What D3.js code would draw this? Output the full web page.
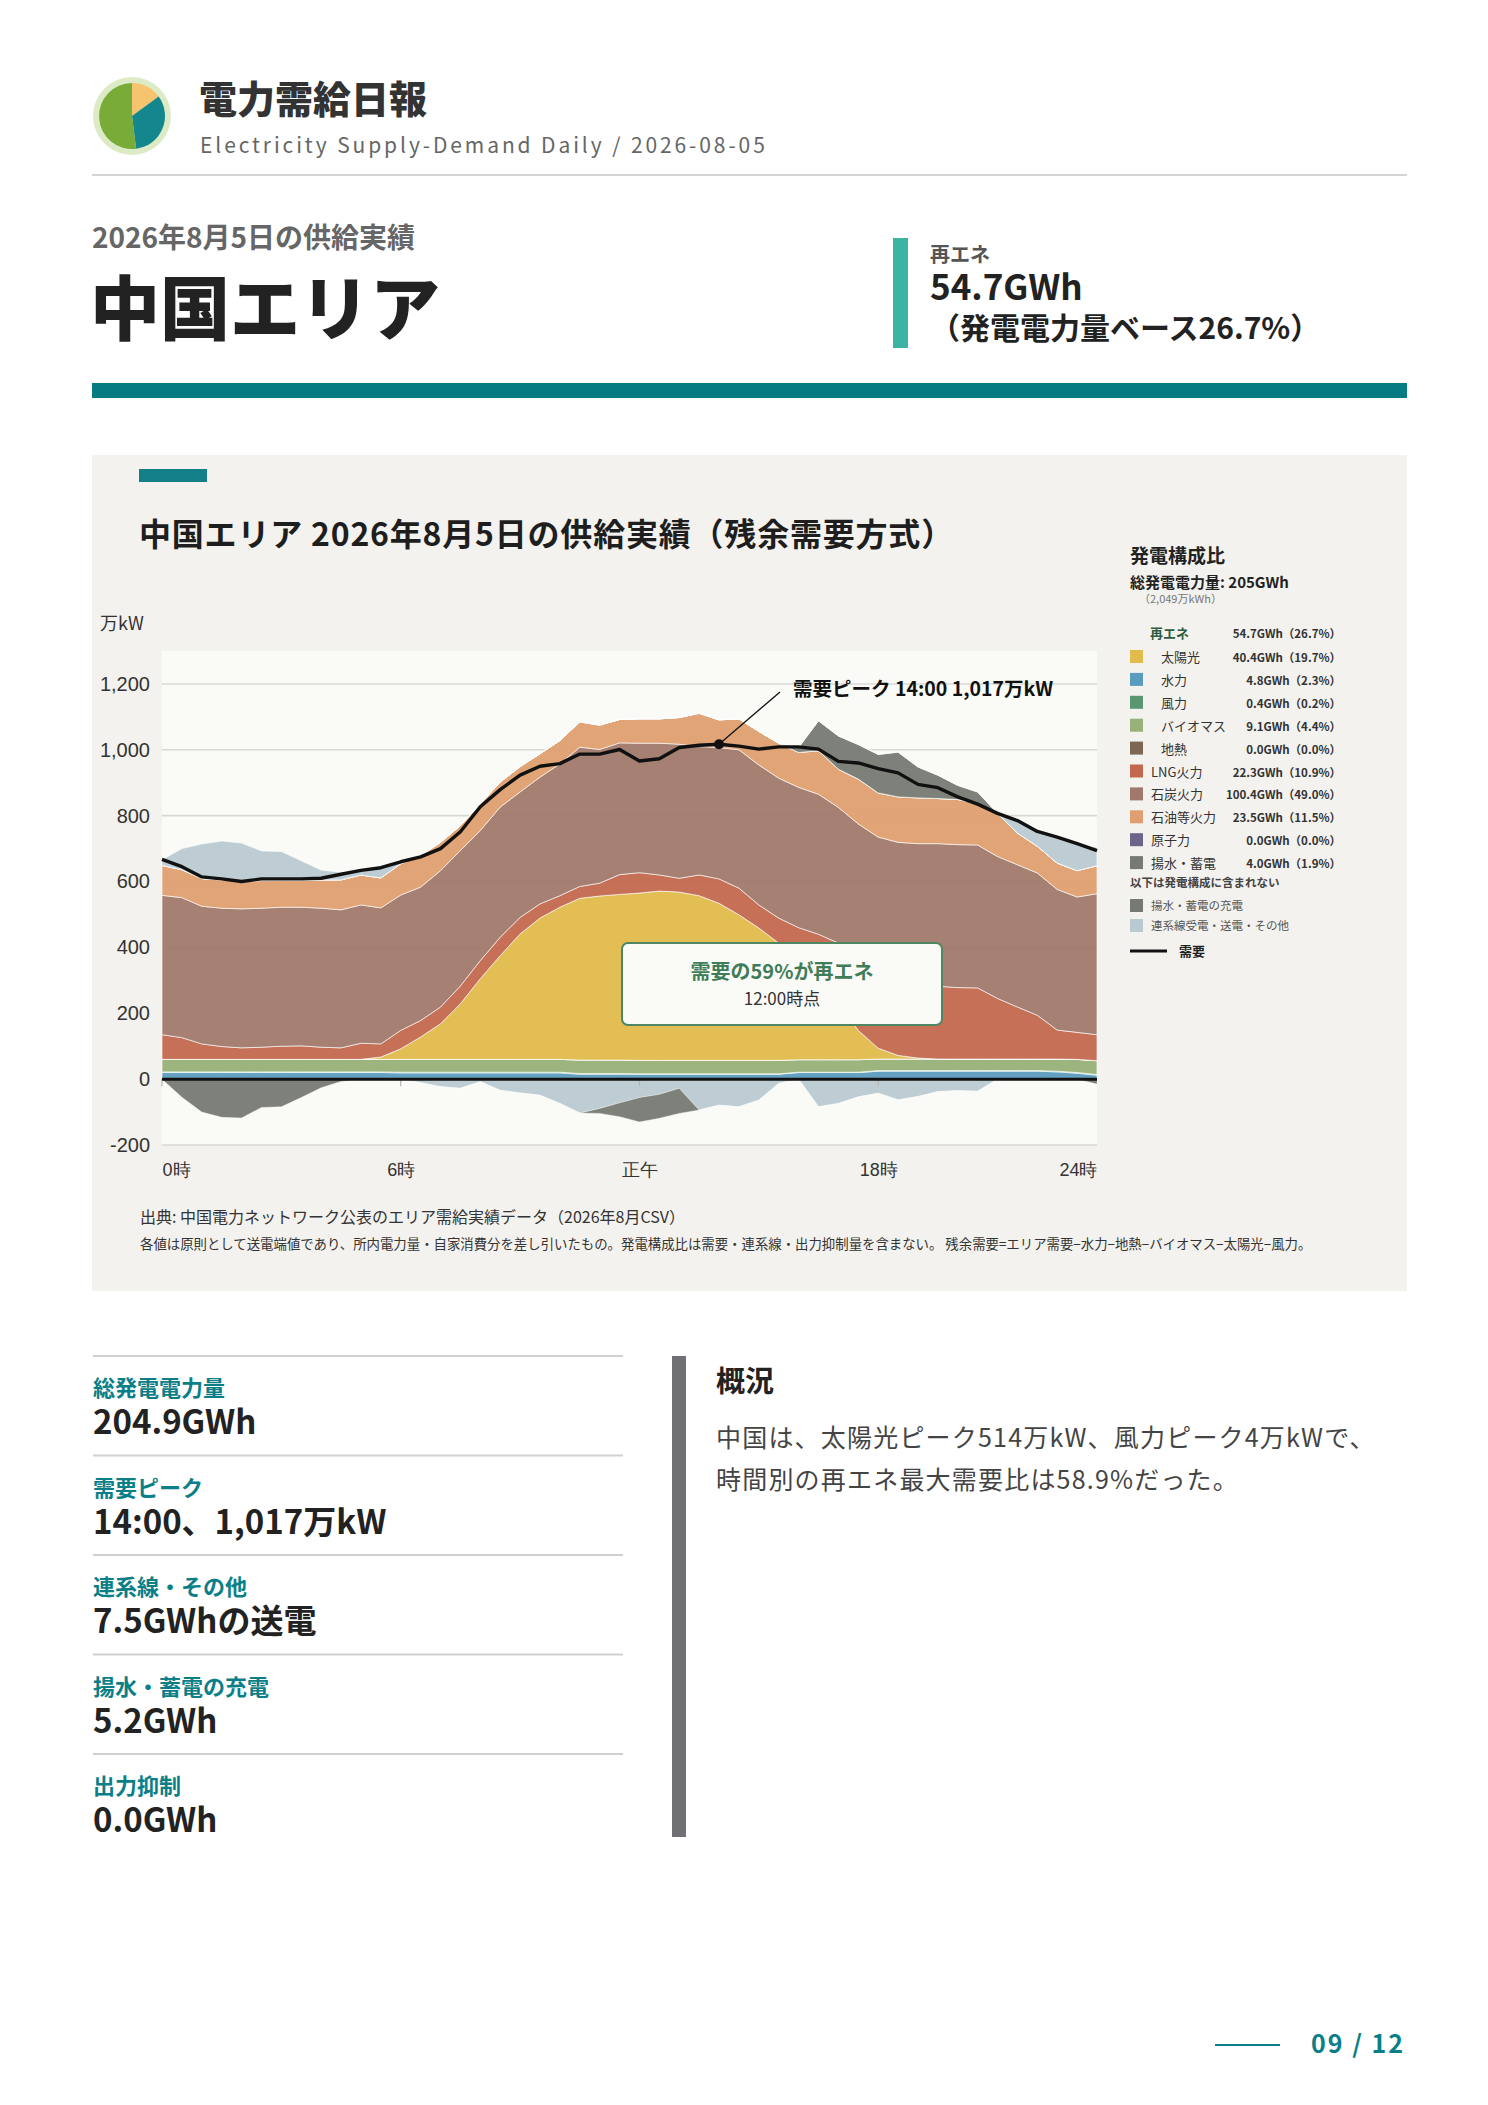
<!DOCTYPE html>
<html lang="ja">
<head>
<meta charset="utf-8">
<script src="https://cdn.jsdelivr.net/npm/d3@7"></script>
<style>
  html, body { margin: 0; padding: 0; background: #fff; }
  svg { display: block; font-family: "Noto Sans CJK JP", "Noto Sans", sans-serif; }
</style>
</head>
<body>
<svg id="page" width="1488" height="2105"></svg>
<script>
// half-hour slots 0:00 .. 23:30
const slots = d3.range(48).map(i => i / 2);

// 万kW
const hydro = [20,20,20,20,20,20,20,20,20,20,20,20, 19,19,19,19,19,19,19,19,19,15,15,15,
               15,15,15,15,15,15,15,15,20,20,20,20, 24,24,24,24,24,24,24,24,24,22,18,12];
const wind = [2,2,2,2,2,2,2,2,2,2,2,2, 2,2,2,2,2,2,2,2,2,2,2,2,
              1,1,1,1,1,1,1,1,1,1,1,1, 2,2,2,2,2,2,2,2,2,2,2,2];
const biomass = [38,38,38,38,38,38,38,38,38,38,38,38, 39,39,39,39,39,39,39,39,39,41,41,41,
                 41,41,41,41,41,41,41,41,38,38,38,38, 35,35,35,35,35,35,35,35,35,37,40,42];
const geothermal = [0,0,0,0,0,0,0,0,0,0,0,0, 0,0,0,0,0,0,0,0,0,0,0,0,
                    0,0,0,0,0,0,0,0,0,0,0,0, 0,0,0,0,0,0,0,0,0,0,0,0];
const solar = [0,0,0,0,0,0,0,0,0,0,0,7, 32,68,108,169,245,315,381,429,462,491,498,503,
               508,514,511,500,477,442,402,356,304,244,174,89, 33,11,3,0,0,0,0,0,0,0,0,0];
const lng = [75,66,47,39,35,37,40,41,37,35,49,40, 56,50,51,54,55,56,50,43,35,36,39,60,
             62,49,42,63,74,81,70,76,97,137,180,220, 246,243,231,221,217,216,184,158,133,88,82,79];
const coal = [423,425,418,420,422,422,422,421,422,419,420,413, 411,405,414,411,395,395,381,385,400,423,406,400,
              393,400,407,390,399,420,425,425,426,425,412,407, 395,404,420,433,434,434,431,432,432,427,411,428];
const oil = [91,85,84,86,84,84,81,81,86,91,91,91, 95,96,86,76,81,76,77,71,71,77,74,71,
             74,74,81,101,84,94,102,106,106,132,116,136, 134,138,139,137,137,126,131,96,81,80,80,85];
const nuclear = [0,0,0,0,0,0,0,0,0,0,0,0, 0,0,0,0,0,0,0,0,0,0,0,0,
                 0,0,0,0,0,0,0,0,0,0,0,0, 0,0,0,0,0,0,0,0,0,0,0,0];
const pumpedGen = [0,0,0,0,0,0,0,0,0,0,0,0, 0,0,0,0,0,0,0,0,0,0,0,0,
                   0,0,0,0,0,0,0,0,15,91,101,105, 117,136,94,71,43,35,0,0,0,0,0,0];
// + = 受電, - = 送電
const interconnect = [17,64,105,118,116,90,88,60,30,23,13,30, 5,-11,-23,-28,-8,-34,-42,-49,-74,-103,-89,-72,
                      -56,-46,-28,-94,-79,-84,-64,-13,0,-84,-74,-54, -43,-63,-53,-38,-35,-37,0,38,45,79,81,56];
const pumpedCharge = [0,-55,-100,-116,-118,-86,-84,-56,-26,-7,0,0, 0,0,0,0,0,0,0,0,0,0,-15,-42,
                      -74,-73,-76,0,0,0,0,0,0,0,0,0, 0,0,0,0,0,0,0,0,0,0,0,-15];
const demand = [667,645,614,608,600,608,608,608,610,622,634,642, 660,675,700,751,827,879,923,950,958,987,987,1001,
                966,973,1007,1014,1017,1011,1002,1009,1009,1002,965,960, 943,930,895,885,857,835,807,785,752,735,715,694];

const yTicks = [-200, 0, 200, 400, 600, 800, 1000, 1200];
const xTicks = [0, 6, 12, 18, 23.5];
const xTickLabels = ["0時", "6時", "正午", "18時", "24時"];

// legend
const mixKeys  = ["solar","hydro","wind","biomass","geothermal","lng","coal","oil","nuclear","pumpedGen"];
const mixNames = ["太陽光","水力","風力","バイオマス","地熱","LNG火力","石炭火力","石油等火力","原子力","揚水・蓄電"];
const mixGWh   = [40.4, 4.8, 0.4, 9.1, 0.0, 22.3, 100.4, 23.5, 0.0, 4.0];
const mixPct   = [19.7, 2.3, 0.2, 4.4, 0.0, 10.9, 49.0, 11.5, 0.0, 1.9];

const statLabels = ["総発電電力量", "需要ピーク", "連系線・その他", "揚水・蓄電の充電", "出力抑制"];
const statValues = ["204.9GWh", "14:00、1,017万kW", "7.5GWhの送電", "5.2GWh", "0.0GWh"];

const logoShares = [0.15, 0.33, 0.52];

const colors = {
    hydro: "#5b9bbe", wind: "#5a9670", biomass: "#97b178", geothermal: "#7e6752",
    solar: "#e1bb4c", lng: "#c2684e", coal: "#a0796c", oil: "#df9f70", nuclear: "#6c6589",
    pumpedGen: "#767a72", importPos: "#b9cad1", exportNeg: "#b9cad1", charge: "#767a72"
};

const teal = "#0b7f88";
const svg = d3.select("#page");

// ---------- header ----------
const logo = svg.append("g").attr("transform", "translate(132,116)");
logo.append("circle").attr("r", 39).attr("fill", "#dcebc6");
const pie = d3.pie().sort(null)(logoShares);
const logoColors = ["#f6c46f", "#13878d", "#78ab37"];
logo.selectAll("path").data(pie).join("path")
    .attr("d", d3.arc().innerRadius(0).outerRadius(33))
    .attr("fill", (d, i) => logoColors[i]);

svg.append("text").attr("x", 199).attr("y", 113)
    .attr("font-size", 38).attr("font-weight", 900).attr("fill", "#333")
    .text("電力需給日報");
svg.append("text").attr("x", 200).attr("y", 153)
    .attr("font-size", 21).attr("fill", "#666").attr("letter-spacing", 2.9)
    .text("Electricity Supply-Demand Daily / 2026-08-05");
svg.append("rect").attr("x", 92).attr("y", 174).attr("width", 1315).attr("height", 2).attr("fill", "#d4d4d4");

svg.append("text").attr("x", 92).attr("y", 248)
    .attr("font-size", 28).attr("font-weight", 700).attr("fill", "#666")
    .text("2026年8月5日の供給実績");
svg.append("text").attr("x", 90).attr("y", 335)
    .attr("font-size", 70).attr("font-weight", 900).attr("fill", "#222")
    .text("中国エリア");

svg.append("rect").attr("x", 893).attr("y", 238).attr("width", 15).attr("height", 110).attr("fill", "#3db4a3");
svg.append("text").attr("x", 930).attr("y", 262)
    .attr("font-size", 20).attr("font-weight", 700).attr("fill", "#555").text("再エネ");
svg.append("text").attr("x", 930).attr("y", 300)
    .attr("font-size", 35).attr("font-weight", 700).attr("fill", "#222").text("54.7GWh");
svg.append("text").attr("x", 930).attr("y", 339)
    .attr("font-size", 30).attr("font-weight", 700).attr("fill", "#222").text("（発電電力量ベース26.7%）");

svg.append("rect").attr("x", 92).attr("y", 383).attr("width", 1315).attr("height", 15).attr("fill", "#077b82");

// ---------- chart panel ----------
svg.append("rect").attr("x", 92).attr("y", 455).attr("width", 1315).attr("height", 836).attr("fill", "#f3f2ee");
svg.append("rect").attr("x", 139).attr("y", 469).attr("width", 68).attr("height", 13).attr("fill", "#137f86");
svg.append("text").attr("x", 139).attr("y", 546)
    .attr("font-size", 32).attr("font-weight", 700).attr("fill", "#1e1e1e").attr("letter-spacing", 0.8)
    .text("中国エリア 2026年8月5日の供給実績（残余需要方式）");

const plot = { left: 162, right: 1097, top: 651, bottom: 1145 };
const x = d3.scaleLinear().domain([0, 23.5]).range([plot.left, plot.right]);
const y = d3.scaleLinear().domain([-200, 1300]).range([plot.bottom, plot.top]);

svg.append("rect").attr("x", plot.left).attr("y", plot.top)
    .attr("width", plot.right - plot.left).attr("height", plot.bottom - plot.top)
    .attr("fill", "#fafaf6");

svg.append("text").attr("x", 100).attr("y", 630).attr("font-size", 18).attr("fill", "#333").text("万kW");

// grid
svg.append("g").selectAll("line").data(yTicks.filter(v => v !== 0)).join("line")
    .attr("x1", plot.left).attr("x2", plot.right)
    .attr("y1", d => y(d)).attr("y2", d => y(d))
    .attr("stroke", "#d9d9d4").attr("stroke-width", 1.6);

// stacked areas
const rows = slots.map((t, i) => ({
    t,
    hydro: hydro[i], wind: wind[i], biomass: biomass[i], geothermal: geothermal[i],
    solar: solar[i], lng: lng[i], coal: coal[i], oil: oil[i], nuclear: nuclear[i],
    pumpedGen: pumpedGen[i],
    importPos: Math.max(0, interconnect[i]),
    exportNeg: Math.max(0, -interconnect[i]),
    charge: -pumpedCharge[i]
}));

const posKeys = ["hydro","wind","biomass","geothermal","solar","lng","coal","oil","nuclear","pumpedGen","importPos"];
const negKeys = ["exportNeg","charge"];
const posStack = d3.stack().keys(posKeys)(rows);
const negStack = d3.stack().keys(negKeys)(rows);

const areaPos = d3.area().x(d => x(d.data.t)).y0(d => y(d[0])).y1(d => y(d[1]));
const areaNeg = d3.area().x(d => x(d.data.t)).y0(d => y(-d[0])).y1(d => y(-d[1]));

const layers = svg.append("g");
layers.selectAll("path.pos").data(posStack).join("path")
    .attr("class", "pos")
    .attr("d", areaPos)
    .attr("fill", d => colors[d.key]).attr("fill-opacity", 0.95)
    .attr("stroke", "#ffffff").attr("stroke-opacity", 0.7).attr("stroke-width", 0.9);
layers.selectAll("path.neg").data(negStack).join("path")
    .attr("class", "neg")
    .attr("d", areaNeg)
    .attr("fill", d => colors[d.key]).attr("fill-opacity", 0.95)
    .attr("stroke", "#ffffff").attr("stroke-opacity", 0.5).attr("stroke-width", 0.8);

// zero line and small ticks
svg.append("g").selectAll("line").data(xTicks.slice(0, 4)).join("line")
    .attr("x1", d => x(d)).attr("x2", d => x(d))
    .attr("y1", y(0)).attr("y2", y(0) + 7)
    .attr("stroke", "#b5b5b0").attr("stroke-width", 1.2);
svg.append("line")
    .attr("x1", plot.left).attr("x2", plot.right)
    .attr("y1", y(0)).attr("y2", y(0))
    .attr("stroke", "#111").attr("stroke-width", 3);

// axes
const fmt = d3.format(",");
const yAxis = svg.append("g").attr("transform", `translate(${plot.left},0)`)
    .call(d3.axisLeft(y).tickValues(yTicks).tickFormat(d => fmt(d).replace("−", "-")).tickSize(0).tickPadding(12));
yAxis.select(".domain").remove();
yAxis.selectAll("text").attr("font-size", 20).attr("fill", "#333").attr("font-family", null);

const xAxis = svg.append("g").attr("transform", `translate(0,${plot.bottom})`)
    .call(d3.axisBottom(x).tickValues(xTicks).tickFormat((d, i) => xTickLabels[i]).tickSize(0).tickPadding(18));
xAxis.select(".domain").remove();
xAxis.selectAll("text").attr("font-size", 18).attr("fill", "#333").attr("font-family", null)
    .attr("text-anchor", (d, i) => i === 0 ? "start" : (i === xTicks.length - 1 ? "end" : "middle"));

// demand line
const demandLine = d3.line().x((d, i) => x(slots[i])).y(d => y(d));
svg.append("path").datum(demand)
    .attr("d", demandLine)
    .attr("fill", "none").attr("stroke", "#111").attr("stroke-width", 3.4)
    .attr("stroke-linejoin", "round");

// peak annotation
const peakIdx = d3.maxIndex(demand);
const px = x(slots[peakIdx]), py = y(demand[peakIdx]);
svg.append("line").attr("x1", px).attr("y1", py).attr("x2", 780).attr("y2", 692)
    .attr("stroke", "#111").attr("stroke-width", 1.3);
svg.append("circle").attr("cx", px).attr("cy", py).attr("r", 5).attr("fill", "#111");
svg.append("text").attr("x", 793).attr("y", 696)
    .attr("font-size", 19.5).attr("font-weight", 700).attr("fill", "#111")
    .text("需要ピーク 14:00 1,017万kW");

// callout box
svg.append("rect").attr("x", 622).attr("y", 943).attr("width", 320).attr("height", 82).attr("rx", 6)
    .attr("fill", "#fafaf7").attr("stroke", "#4e8762").attr("stroke-width", 2);
svg.append("text").attr("x", 782).attr("y", 979).attr("text-anchor", "middle")
    .attr("font-size", 20).attr("font-weight", 700).attr("fill", "#3f7d58")
    .text("需要の59%が再エネ");
svg.append("text").attr("x", 782).attr("y", 1005).attr("text-anchor", "middle")
    .attr("font-size", 17).attr("fill", "#333")
    .text("12:00時点");

// ---------- legend ----------
const lg = svg.append("g");
lg.append("text").attr("x", 1130).attr("y", 563).attr("font-size", 19).attr("font-weight", 700).attr("fill", "#222").text("発電構成比");
lg.append("text").attr("x", 1130).attr("y", 588).attr("font-size", 15).attr("font-weight", 700).attr("fill", "#222").text("総発電電力量: 205GWh");
lg.append("text").attr("x", 1139).attr("y", 603).attr("font-size", 11).attr("fill", "#777").text("（2,049万kWh）");

const valueX = 1341;
lg.append("text").attr("x", 1150).attr("y", 638).attr("font-size", 13).attr("font-weight", 700).attr("fill", "#2e5a3f").text("再エネ");
lg.append("text").attr("x", valueX).attr("y", 638).attr("text-anchor", "end")
    .attr("font-size", 11.5).attr("font-weight", 700).attr("fill", "#333").text("54.7GWh（26.7%）");

const rowY = i => 657 + i * 22.9;
const mixRow = lg.selectAll("g.mix").data(mixKeys).join("g").attr("class", "mix")
    .attr("transform", (d, i) => `translate(0,${rowY(i)})`);
mixRow.append("rect").attr("x", 1130).attr("y", -7).attr("width", 13).attr("height", 13)
    .attr("fill", d => colors[d]);
mixRow.append("text").attr("x", (d, i) => i < 5 ? 1161 : 1151).attr("y", 5)
    .attr("font-size", 13).attr("fill", "#333").text((d, i) => mixNames[i]);
mixRow.append("text").attr("x", valueX).attr("y", 5).attr("text-anchor", "end")
    .attr("font-size", 11.5).attr("font-weight", 700).attr("fill", "#333")
    .text((d, i) => `${mixGWh[i].toFixed(1)}GWh（${mixPct[i].toFixed(1)}%）`);

lg.append("text").attr("x", 1130).attr("y", 887).attr("font-size", 11.5).attr("font-weight", 700).attr("fill", "#444")
    .text("以下は発電構成に含まれない");
const extraNames = ["揚水・蓄電の充電", "連系線受電・送電・その他"];
const extraKeys = ["charge", "exportNeg"];
extraNames.forEach((name, i) => {
    const cy = 906 + i * 20;
    lg.append("rect").attr("x", 1130).attr("y", cy - 7).attr("width", 13).attr("height", 13).attr("fill", colors[extraKeys[i]]);
    lg.append("text").attr("x", 1151).attr("y", cy + 4).attr("font-size", 11.5).attr("fill", "#555").text(name);
});
lg.append("line").attr("x1", 1130).attr("x2", 1167).attr("y1", 951).attr("y2", 951).attr("stroke", "#111").attr("stroke-width", 3);
lg.append("text").attr("x", 1179).attr("y", 956).attr("font-size", 13).attr("font-weight", 700).attr("fill", "#222").text("需要");

// notes
svg.append("text").attr("x", 140).attr("y", 1223).attr("font-size", 16).attr("fill", "#333")
    .text("出典: 中国電力ネットワーク公表のエリア需給実績データ（2026年8月CSV）");
svg.append("text").attr("x", 140).attr("y", 1249).attr("font-size", 13.4).attr("fill", "#333")
    .text("各値は原則として送電端値であり、所内電力量・自家消費分を差し引いたもの。発電構成比は需要・連系線・出力抑制量を含まない。 残余需要=エリア需要−水力−地熱−バイオマス−太陽光−風力。");

// ---------- stats ----------
const stats = svg.append("g").selectAll("g").data(statLabels).join("g")
    .attr("transform", (d, i) => `translate(93,${1356 + i * 99.5})`);
stats.append("rect").attr("x", 0).attr("y", -1).attr("width", 530).attr("height", 2).attr("fill", "#d0d0d0");
stats.append("text").attr("y", 40).attr("font-size", 22).attr("font-weight", 700).attr("fill", teal).text(d => d);
stats.append("text").attr("y", 78).attr("font-size", 33).attr("font-weight", 700).attr("fill", "#222")
    .text((d, i) => statValues[i]);

svg.append("rect").attr("x", 672).attr("y", 1356).attr("width", 14).attr("height", 481).attr("fill", "#707175");
svg.append("text").attr("x", 716).attr("y", 1392).attr("font-size", 29).attr("font-weight", 700).attr("fill", "#222").text("概況");
svg.append("text").attr("x", 716).attr("y", 1447).attr("font-size", 25).attr("fill", "#444").attr("letter-spacing", 1.2)
    .text("中国は、太陽光ピーク514万kW、風力ピーク4万kWで、");
svg.append("text").attr("x", 716).attr("y", 1489).attr("font-size", 25).attr("fill", "#444").attr("letter-spacing", 1.2)
    .text("時間別の再エネ最大需要比は58.9%だった。");

// page number
svg.append("line").attr("x1", 1215).attr("x2", 1280).attr("y1", 2045).attr("y2", 2045).attr("stroke", teal).attr("stroke-width", 2);
svg.append("text").attr("x", 1405).attr("y", 2053).attr("text-anchor", "end")
    .attr("font-size", 25).attr("font-weight", 700).attr("fill", teal).attr("letter-spacing", 2)
    .text("09 / 12");
</script>
</body>
</html>
